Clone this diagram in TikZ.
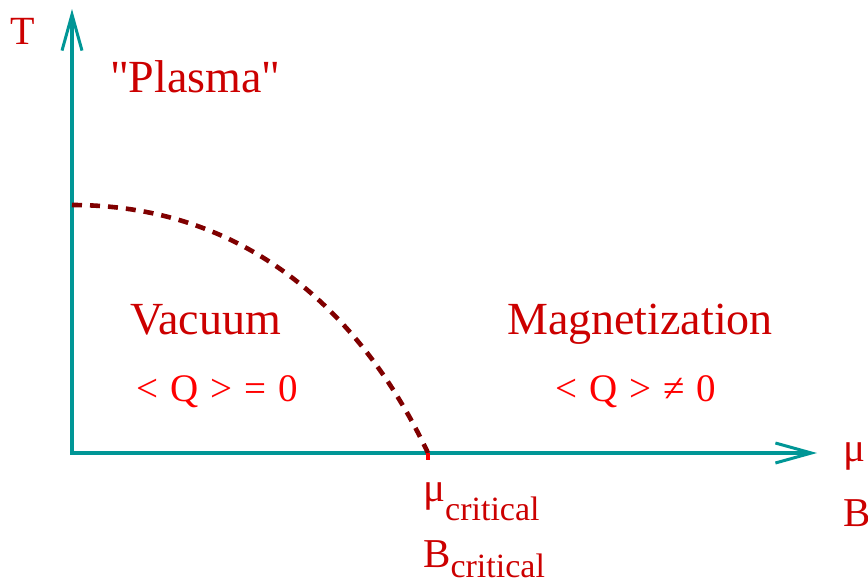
\documentclass[tikz,border=0pt]{standalone}
\usepackage{fontspec}
\setmainfont{Liberation Serif}
\newfontfamily\plainquotes{Liberation Serif}
\usepackage{xcolor}
\usetikzlibrary{arrows.meta,positioning}
\definecolor{axisteal}{RGB}{0,150,150}
\definecolor{labelred}{RGB}{204,0,0}
\definecolor{formred}{RGB}{255,0,0}
\definecolor{curvered}{RGB}{128,0,0}
\newcommand{\pxfont}[1]{\fontsize{#1}{#1}\selectfont}
\newcommand{\gap}{\hspace{12pt}}
\begin{document}
\begin{tikzpicture}[x=1pt, y=-1pt,
  axisline/.style={draw=axisteal, line width=4.2pt, line join=miter, {Straight Barb[length=36pt,width=20pt,line width=3pt]}-{Straight Barb[length=36pt,width=20pt,line width=3pt]}},
  region/.style={anchor=base west, inner sep=0pt, text=labelred, font=\pxfont{46}},
  formula/.style={anchor=base west, inner sep=0pt, text=formred, font=\pxfont{39}},
  axislabel/.style={anchor=base west, inner sep=0pt, text=labelred, font=\pxfont{41}}]
\useasboundingbox (0,0) rectangle (868,582);
\coordinate (origin) at (72,453);
\coordinate (ytip) at (72,9);
\coordinate (xtip) at (817,453);
\coordinate (tcrit) at (72,205);
\coordinate (mucrit) at (428,453);
\draw[axisline] (ytip)--(origin)--(xtip);
\draw[curvered, line width=4.6pt, dash pattern=on 10pt off 8pt] (tcrit) .. controls (260,205) and (370,330) .. (mucrit);
\draw[formred, line width=4pt] (mucrit)--++(0,7);
\node[axislabel, font=\pxfont{40}] (tlab) at (10,44) {T};
\node[region, font=\pxfont{46}\plainquotes] (plasma) at (110,92) {"Plasma"};
\node[region] (vac) at (130,334) {Vacuum};
\node[region] (mag) at (507,334) {Magnetization};
\node[formula] (qzero) at (136,401) {<\gap Q\gap >\gap =\gap 0};
\node[formula] (qnonzero) at (555,401) {<\gap Q\gap >\gap ≠\gap 0};
\node[axislabel] (mulab) at (843,461) {μ};
\node[axislabel] (blab) at (843,526) {B};
\node[axislabel] (mucl) at (423,501) {μ\raisebox{-19pt}{\pxfont{34}critical}};
\node[axislabel] (bcl) at (423,567) {B\raisebox{-10pt}{\pxfont{34}critical}};
\end{tikzpicture}
\end{document}
